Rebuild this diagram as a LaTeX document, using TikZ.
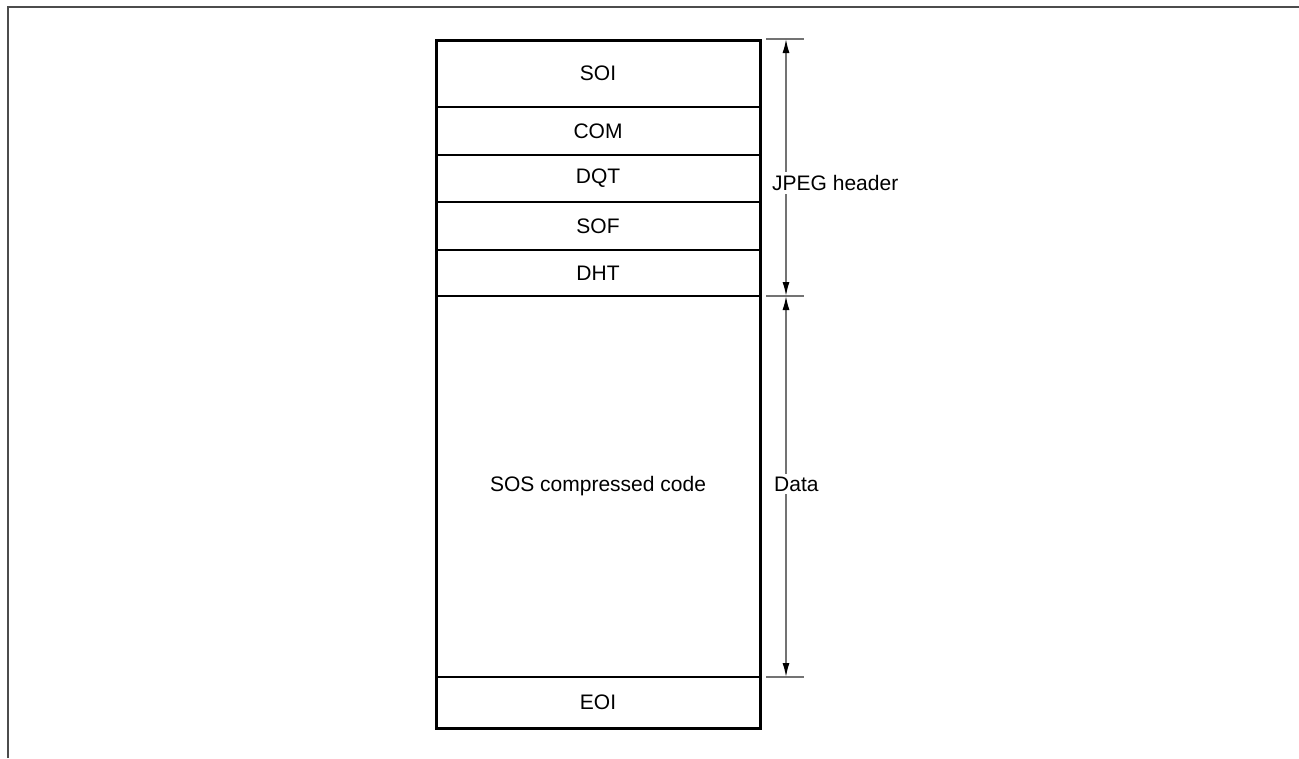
\documentclass[tikz,border=0pt]{standalone}
\usepackage{fontspec}
\setmainfont{Liberation Sans}
\usetikzlibrary{positioning,arrows.meta}
\definecolor{dimline}{gray}{0.45}
\definecolor{frameline}{gray}{0.3}

\tikzset{
	seg/.style={draw, line width=2pt, minimum width=324pt, inner sep=0pt, outer sep=0pt,
		font=\fontsize{21}{24}\selectfont},
	ext/.style={line width=1.2pt, dimline},
	dim/.style={line width=1.5pt, dimline, {Latex[color=black,length=14pt,width=7pt]}-{Latex[color=black,length=14pt,width=7pt]}},
	dimlabel/.style={fill=white, inner sep=3pt, anchor=west, font=\fontsize{21}{24}\selectfont}
}

\begin{document}
\begin{tikzpicture}[x=1pt,y=-1pt]
	\useasboundingbox (0,0) rectangle (1299,758);
	% frame
	\draw[frameline, line width=2pt] (7.5,758) |- (1299,6.5);
	% marker segments
	\node[seg, minimum height=67pt] (soi) at (598,73.5) {SOI};
	\node[seg, minimum height=48pt] (com) [below=0pt of soi] {COM};
	\node[seg, minimum height=47pt] (dqt) [below=0pt of com] {DQT};
	\node[seg, minimum height=48pt] (sof) [below=0pt of dqt] {SOF};
	\node[seg, minimum height=46pt] (dht) [below=0pt of sof] {DHT};
	\node[seg, minimum height=381pt] (sos) [below=0pt of dht] {SOS compressed code};
	\node[seg, minimum height=51pt] (eoi) [below=0pt of sos] {EOI};
	\draw[line width=3pt] (soi.north west) rectangle (eoi.south east);
	% extension lines
	\coordinate (top) at ([xshift=6pt,yshift=1pt]soi.north east);
	\coordinate (mid) at ([xshift=6pt]dht.south east);
	\coordinate (bot) at ([xshift=6pt]sos.south east);
	\draw[ext] (top) -- ++(38,0);
	\draw[ext] (mid) -- ++(38,0);
	\draw[ext] (bot) -- ++(38,0);
	% dimensions
	\draw[dim] ([xshift=20pt]top) -- ([xshift=20pt]mid);
	\draw[dim] ([xshift=20pt]mid) -- ([xshift=20pt]bot);
	\node[dimlabel] (hdr) at (769,183) {JPEG header};
	\node[dimlabel] (data) at (771,484) {Data};
\end{tikzpicture}
\end{document}
